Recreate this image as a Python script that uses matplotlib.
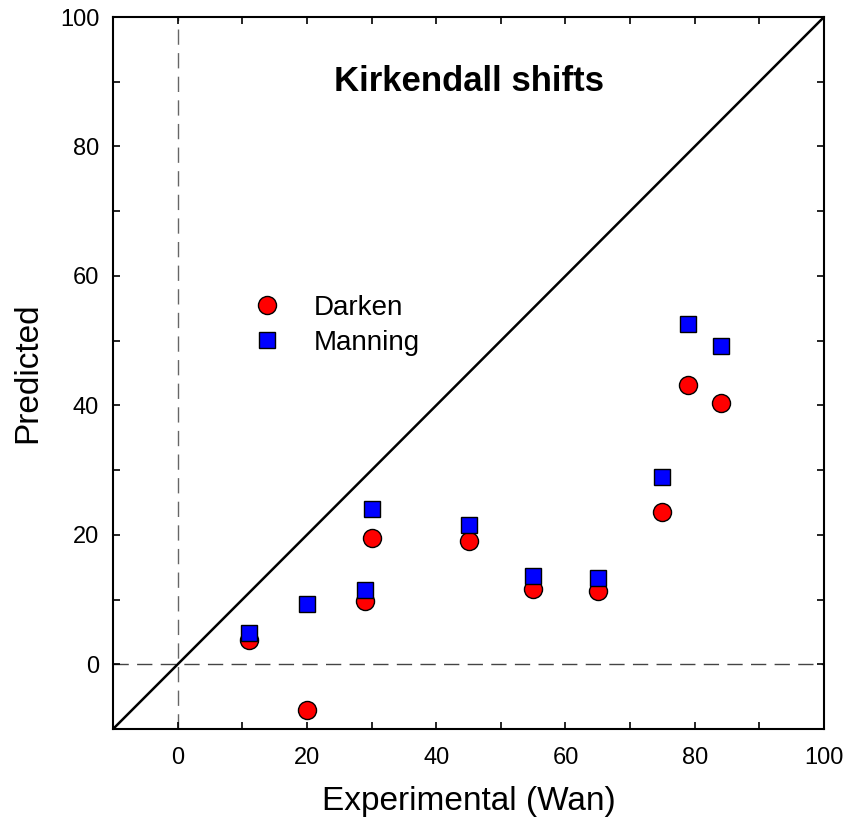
import matplotlib
matplotlib.use('Agg')
import matplotlib.pyplot as plt
from matplotlib.ticker import MultipleLocator

plt.rcParams['font.family'] = ['Liberation Sans', 'DejaVu Sans']

experimental = [11, 20, 29, 30, 45, 55, 65, 75, 79, 84]
darken = [3.7, -7.0, 9.8, 19.5, 19.0, 11.7, 11.4, 23.5, 43.2, 40.4]
manning = [4.9, 9.3, 11.5, 24.0, 21.5, 13.7, 13.4, 28.9, 52.5, 49.2]

fig = plt.figure(figsize=(8.46, 8.22), dpi=100)
ax = fig.add_axes([0.1336, 0.1131, 0.8404, 0.8662])

# reference lines
ax.plot([-10, 100], [-10, 100], color='black', lw=1.8, zorder=2)
ax.axhline(0, color='#444444', lw=1.0, ls=(0, (11, 6)), zorder=1)
ax.axvline(0, color='#666666', lw=1.0, ls=(0, (11, 6)), zorder=1)

ax.plot(experimental, darken, 'o', ms=13, mfc='red', mec='black', mew=1.0,
        label='Darken', zorder=3)
ax.plot(experimental, manning, 's', ms=11.5, mfc='blue', mec='black', mew=1.0,
        label='Manning', zorder=4)

ax.set_xlim(-10, 100)
ax.set_ylim(-10, 100)
ax.xaxis.set_major_locator(MultipleLocator(20))
ax.yaxis.set_major_locator(MultipleLocator(20))
ax.xaxis.set_minor_locator(MultipleLocator(10))
ax.yaxis.set_minor_locator(MultipleLocator(10))
ax.tick_params(which='both', direction='in', length=5, width=1.2,
               top=True, right=True, labelsize=17, pad=10)
ax.tick_params(axis='x', pad=13)
for s in ax.spines.values():
    s.set_linewidth(1.5)

ax.set_xlabel('Experimental (Wan)', fontsize=24, labelpad=12)
ax.set_ylabel('Predicted', fontsize=24, labelpad=12)

ax.text(0.5, 0.91, 'Kirkendall shifts', transform=ax.transAxes,
        ha='center', va='center', fontsize=25, fontweight='bold')

ax.legend(loc='upper left', bbox_to_anchor=(0.143, 0.645), frameon=False,
          fontsize=20, handletextpad=0.65, labelspacing=0.32, numpoints=1)

plt.savefig('out.png', dpi=100)
